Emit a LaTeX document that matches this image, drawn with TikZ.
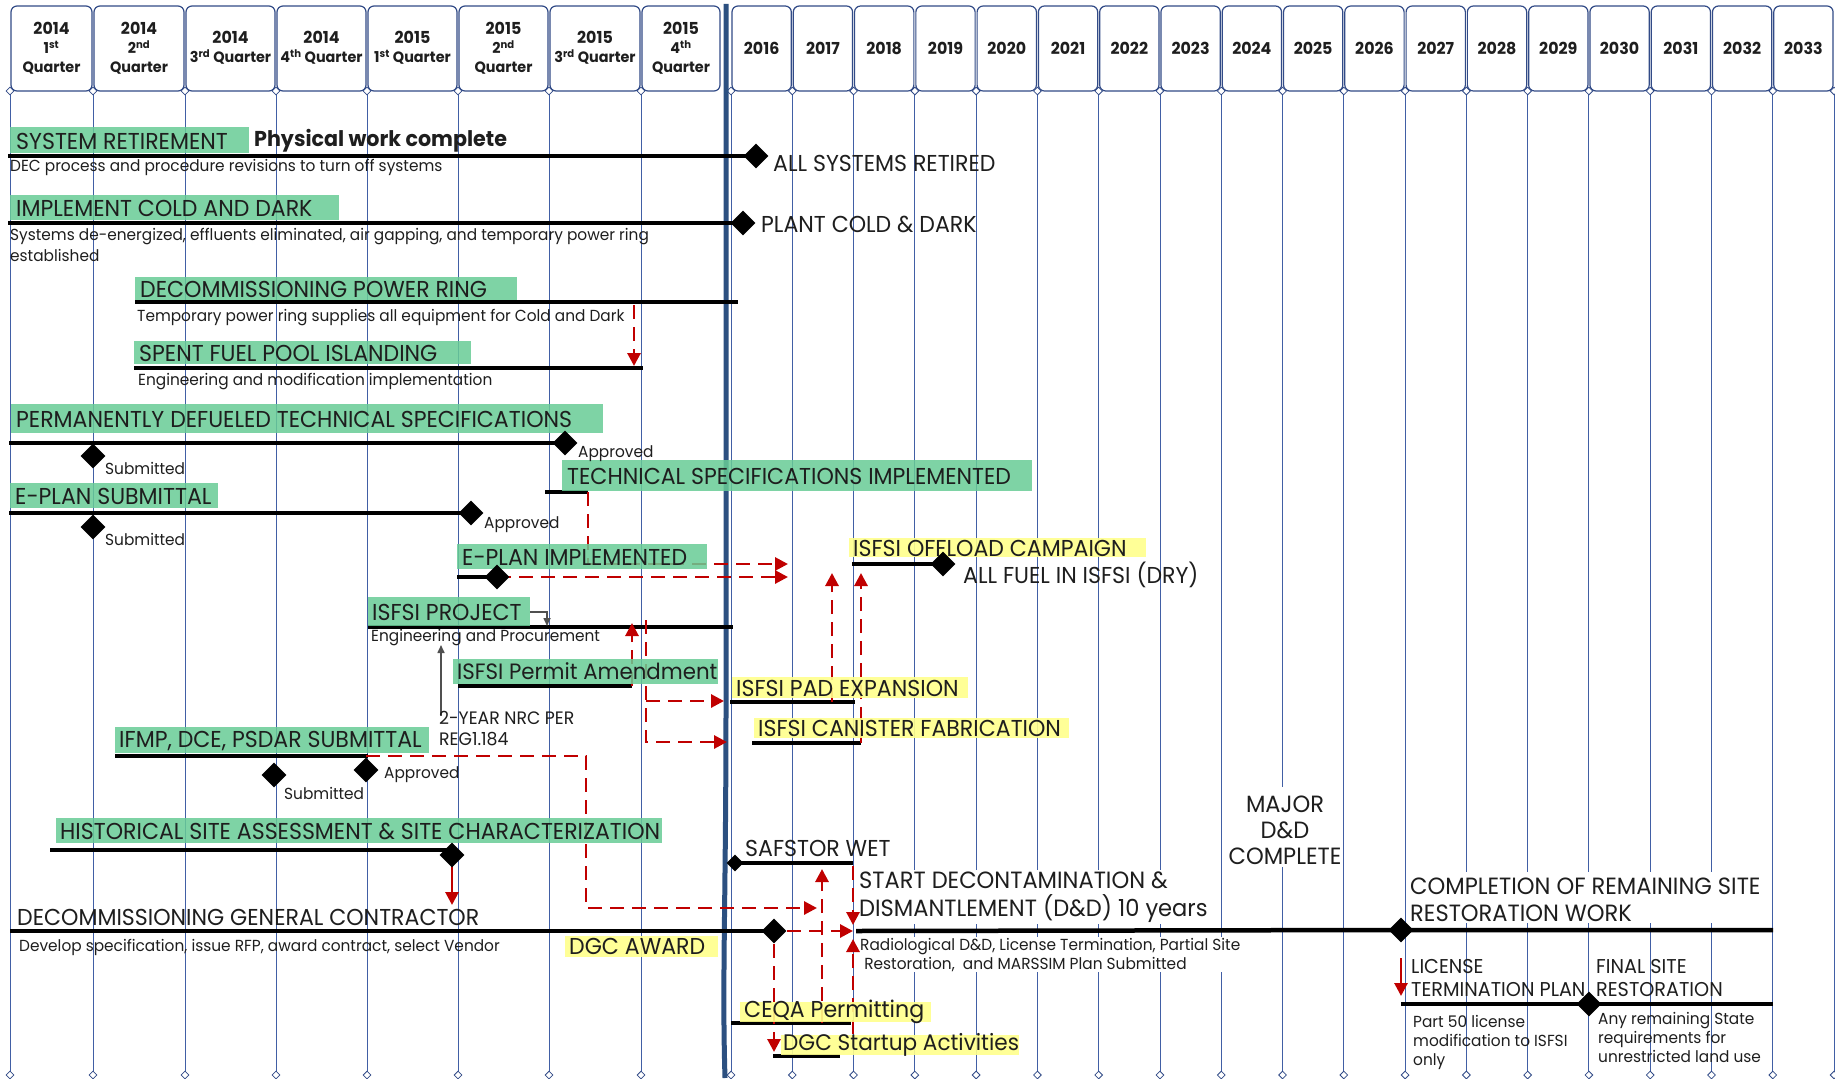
\documentclass[tikz,border=0pt]{standalone}
\usepackage{fontspec}
\setmainfont{Poppins}[FakeStretch=0.96]
\usetikzlibrary{arrows.meta,shapes.geometric}
\definecolor{gbox}{RGB}{104,204,150}
\definecolor{ybox}{RGB}{255,255,140}
\definecolor{gridc}{RGB}{65,95,165}
\definecolor{hdr}{RGB}{50,75,135}
\definecolor{sepc}{RGB}{44,80,128}
\definecolor{dred}{RGB}{192,0,0}
\definecolor{txt}{RGB}{30,30,30}
\definecolor{greyarr}{RGB}{80,80,80}
\newcommand{\fbig}{\fontsize{23}{27}\selectfont}
\newcommand{\fsml}{\fontsize{16}{19}\selectfont}
\newcommand{\fhdr}{\fontsize{15}{19}\selectfont\bfseries}
\newcommand{\fyr}{\fontsize{16.5}{19}\selectfont\bfseries}
\begin{document}
\begin{tikzpicture}[x=1pt,y=-1pt,
  every node/.style={inner sep=0pt, text=txt},
  lbl/.style={anchor=west, font=\fbig},
  sml/.style={anchor=west, font=\fsml},
  hdrtext/.style={align=center, font=\fhdr},
  hdrbox/.style={draw=hdr, line width=1.2pt, rounded corners=6pt, fill=white},
  hjoint/.style={diamond, draw=hdr, fill=white, line width=0.8pt, minimum width=8pt, minimum height=8pt},
  gridline/.style={draw=gridc, line width=0.9pt},
  gfill/.style={fill=gbox, fill opacity=0.85},
  yfill/.style={fill=ybox, fill opacity=0.9},
  bar/.style={line width=4.5pt, black},
  ms/.style={diamond, fill=black, minimum width=25pt, minimum height=25pt},
  mss/.style={diamond, fill=black, minimum width=17pt, minimum height=17pt},
  dep/.style={dred, line width=2.9pt, dash pattern=on 14pt off 8pt, -{Triangle[length=13pt,width=13pt]}},
  redsolid/.style={dred, line width=2.8pt, -{Triangle[length=13pt,width=13pt]}},
  garrow/.style={greyarr, line width=1.6pt, -{Triangle[length=8pt,width=7pt]}}
]
\useasboundingbox (0,0) rectangle (1835,1078);
\fill[white] (0,0) rectangle (1835,1078);

% ---------- header ----------
\foreach \a/\b in {10/93,93/185,185/276,276/367,367/458,458/549,549/641,641/721}
  \draw[hdrbox] (\a+1,6) rectangle (\b-1,91);
\foreach \i in {0,...,17} {
  \pgfmathsetmacro\xa{731+\i*61.28}
  \pgfmathsetmacro\xb{731+(\i+1)*61.28}
  \pgfmathtruncatemacro\yr{2016+\i}
  \draw[hdrbox] (\xa+1,6) rectangle (\xb-1,91);
  \node[hdrtext, font=\fyr] (yr\i) at ({(\xa+\xb)/2},48) {\yr};
}
\node[hdrtext] (q1) at (51.5,48) {{\fyr 2014}\\1\textsuperscript{st}\\Quarter};
\node[hdrtext] (q2) at (139,48) {{\fyr 2014}\\2\textsuperscript{nd}\\Quarter};
\node[hdrtext] (q3) at (230.5,48) {{\fyr 2014}\\3\textsuperscript{rd} Quarter};
\node[hdrtext] (q4) at (321.5,48) {{\fyr 2014}\\4\textsuperscript{th} Quarter};
\node[hdrtext] (q5) at (412.5,48) {{\fyr 2015}\\1\textsuperscript{st} Quarter};
\node[hdrtext] (q6) at (503.5,48) {{\fyr 2015}\\2\textsuperscript{nd}\\Quarter};
\node[hdrtext] (q7) at (595,48) {{\fyr 2015}\\3\textsuperscript{rd} Quarter};
\node[hdrtext] (q8) at (681,48) {{\fyr 2015}\\4\textsuperscript{th}\\Quarter};

% ---------- grid ----------
\foreach \x in {10,93,185,276,367,458,549,641} {
  \draw[gridline] (\x,91) -- (\x,1075);
  \node[hjoint] at (\x,91) {};
  \node[hjoint] at (\x,1075) {};
}
\foreach \i in {0,...,18} {
  \pgfmathsetmacro\xa{731+\i*61.28}
  \draw[gridline] (\xa,91) -- (\xa,1075);
  \node[hjoint] at (\xa,91) {};
  \node[hjoint] at (\xa,1075) {};
}
\draw[sepc, line width=5pt] (726,4) -- (726,700) .. controls (726,900) and (722,980) .. (725,1078);

% white backgrounds behind texts in lower right
\fill[white] (857,870) rectangle (1215,924);
\fill[white] (857,937) rectangle (1250,972);
\fill[white] (1223,787) rectangle (1343,867);
\fill[white] (1407,872) rectangle (1772,923);

% ---------- milestone coordinates ----------
\coordinate (m1) at (756,156);
\coordinate (m2) at (743,223);
\coordinate (m3a) at (93,456);
\coordinate (m3b) at (565,443);
\coordinate (m4a) at (93,527);
\coordinate (m4b) at (471,513);
\coordinate (m5) at (497,577);
\coordinate (m6) at (943,564);
\coordinate (m7a) at (274,775);
\coordinate (m7b) at (366,770);
\coordinate (m8) at (452,855);
\coordinate (m9) at (735,863);
\coordinate (m10) at (774,931);
\coordinate (m11) at (1401,930);
\coordinate (m12) at (1589,1004);

% ---------- bars ----------
\draw[bar] (8,156) -- (m1);
\draw[bar] (8,223) -- (m2);
\draw[bar] (135,302) -- (738,302);
\draw[bar] (134,368) -- (643,368);
\draw[bar] (9,443) -- (m3b);
\draw[bar] (545,492) -- (588,492);
\draw[bar] (9,513) -- (m4b);
\draw[bar] (457,577) -- (m5);
\draw[bar] (852,564) -- (m6);
\draw[bar] (368,627) -- (733,627);
\draw[bar] (458,686) -- (632,686);
\draw[bar] (730,702) -- (855,702);
\draw[bar] (752,743) -- (861,743);
\draw[bar] (115,756) -- (368,756);
\draw[bar] (50,850) -- (452,850);
\draw[line width=3.5pt] (m9) -- (853,863);
\draw[bar] (10,931) -- (m10);
\draw[bar] (856,931) -- (m11) -- (1773,930);
\draw[bar] (731,1023) -- (851,1023);
\draw[bar] (773,1056) -- (840,1056);
\draw[bar] (1401,1004) -- (1773,1004);

% ---------- dependency arrows ----------
\draw[dep] (634,305) -- (634,366);
\draw[dep] (588,492) -- (588,564) -- (788,564);
\draw[dep] (m5) -- (788,577);
\draw[dep] (632,686) -- (632,623);
\draw[dep] (646,620) -- (646,742) -- (727,742);
\draw[dep] (646,701) -- (724,701);
\draw[dep] (832,702) -- (832,573);
\draw[dep] (861,743) -- (861,573);
\draw[dep] (m7b) ++(0,-14) -- (586,756) -- (586,908) -- (817,908);
\draw[redsolid] (452,866) -- (452,905);
\draw[dep] (853,866) -- (853,925);
\draw[dep] (822,1023) -- (822,869);
\draw[dep] (787,931) -- (853,931);
\draw[dep] (774,944) -- (774,1052);
\draw[dep] (853,1034) -- (853,939);
\draw[redsolid] (1401,958) -- (1401,996);
\draw[garrow] (530,612) -- (547,612) -- (547,626);
\draw[garrow] (441,716) -- (441,645);

% ---------- boxes ----------
\fill[gfill] (10,127) rectangle (249,153);
\fill[gfill] (10,195) rectangle (339,220);
\fill[gfill] (135,277) rectangle (517,300);
\fill[gfill] (134,341) rectangle (471,364);
\fill[gfill] (11,404) rectangle (603,433);
\fill[gfill] (562,460) rectangle (1032,491);
\fill[gfill] (10,483) rectangle (218,508);
\fill[gfill] (457,544) rectangle (707,569);
\fill[gfill] (368,597) rectangle (530,626);
\fill[gfill] (453,659) rectangle (718,684);
\fill[gfill] (115,727) rectangle (429,753);
\fill[gfill] (56,818) rectangle (662,843);
\fill[yfill] (849,538) rectangle (1146,557);
\fill[yfill] (732,677) rectangle (968,698);
\fill[yfill] (754,718) rectangle (1069,738);
\fill[yfill] (565,936) rectangle (718,957);
\fill[yfill] (740,1002) rectangle (931,1022);
\fill[yfill] (781,1035) rectangle (1019,1055);

% ---------- milestones ----------
\node[ms] (d1) at (m1) {};
\node[ms] (d2) at (m2) {};
\node[ms] (d3a) at (m3a) {};
\node[ms] (d3b) at (m3b) {};
\node[ms] (d4a) at (m4a) {};
\node[ms] (d4b) at (m4b) {};
\node[ms] (d5) at (m5) {};
\node[ms] (d6) at (m6) {};
\node[ms] (d7a) at (m7a) {};
\node[ms] (d7b) at (m7b) {};
\node[ms] (d8) at (m8) {};
\node[mss] (d9) at (m9) {};
\node[ms] (d10) at (m10) {};
\node[ms] (d11) at (m11) {};
\node[ms] (d12) at (m12) {};

% ---------- texts ----------
\node[lbl] (t1) at (16,141) {SYSTEM RETIREMENT};
\node[anchor=west, font=\fontsize{21.5}{25}\selectfont\bfseries] (t1b) at (254,141) {Physical work complete};
\node[lbl] (t1c) at (773,163) {ALL SYSTEMS RETIRED};
\node[sml] (t1d) at (10,167) {DEC process and procedure revisions to turn off systems};

\node[lbl] (t2) at (16,208) {IMPLEMENT COLD AND DARK};
\node[lbl] (t2c) at (761,224) {PLANT COLD \& DARK};
\node[sml] (t2d) at (10,237) {Systems de-energized, effluents eliminated, air gapping, and temporary power ring};
\node[sml] (t2e) at (10,255) {established};

\node[lbl] (t3) at (140,289) {DECOMMISSIONING POWER RING};
\node[sml] (t3d) at (137,318) {Temporary power ring supplies all equipment for Cold and Dark};

\node[lbl] (t4) at (139,353) {SPENT FUEL POOL ISLANDING};
\node[sml] (t4d) at (138,382) {Engineering and modification implementation};

\node[lbl] (t5) at (16,419) {PERMANENTLY DEFUELED TECHNICAL SPECIFICATIONS};
\node[sml] (t5a) at (105,468) {Submitted};
\node[sml] (t5b) at (578,454) {Approved};

\node[lbl] (t6) at (567,476) {TECHNICAL SPECIFICATIONS IMPLEMENTED};

\node[lbl] (t7) at (15,496) {E-PLAN SUBMITTAL};
\node[sml] (t7a) at (105,539) {Submitted};
\node[sml] (t7b) at (484,525) {Approved};

\node[lbl] (t8) at (462,557) {E-PLAN IMPLEMENTED};
\node[lbl] (t9) at (853,548) {ISFSI OFFLOAD CAMPAIGN};
\node[lbl] (t9b) at (963,575) {ALL FUEL IN ISFSI (DRY)};

\node[lbl] (t10) at (372,612) {ISFSI PROJECT};
\node[sml] (t10d) at (371,638) {Engineering and Procurement};
\node[lbl, font=\fontsize{22.2}{26}\selectfont] (t11) at (457,671) {ISFSI Permit Amendment};
\node[anchor=north west, align=left, font=\fontsize{18}{21}\selectfont] (t11n) at (439,711) {2-YEAR NRC PER\\REG1.184};

\node[lbl] (t12) at (736,688) {ISFSI PAD EXPANSION};
\node[lbl] (t13) at (758,728) {ISFSI CANISTER FABRICATION};

\node[lbl] (t14) at (119,741) {IFMP, DCE, PSDAR SUBMITTAL};
\node[sml] (t14a) at (284,793) {Submitted};
\node[sml] (t14b) at (384,775) {Approved};

\node[lbl] (t15) at (60,831) {HISTORICAL SITE ASSESSMENT \& SITE CHARACTERIZATION};

\node[lbl] (t16) at (745,848) {SAFSTOR WET};
\node[lbl] (t17) at (17,917) {DECOMMISSIONING GENERAL CONTRACTOR};
\node[sml] (t17d) at (19,947) {Develop specification, issue RFP, award contract, select Vendor};
\node[lbl] (t18) at (569,946) {DGC AWARD};
\node[lbl] (t19) at (744,1012) {CEQA Permitting};
\node[lbl, font=\fontsize{22.5}{26}\selectfont] (t20) at (783,1045) {DGC Startup Activities};

\node[anchor=north west, align=left, font=\fontsize{23.5}{27.5}\selectfont] (t21) at (859,872) {START DECONTAMINATION \&\\DISMANTLEMENT (D\&D) 10 years};
\node[sml, align=left, anchor=north west] (t22) at (860,938) {Radiological D\&D, License Termination, Partial Site\\\ Restoration,\ \ and MARSSIM Plan Submitted};
\node[align=center, font=\fontsize{23.5}{26}\selectfont] (t23) at (1285,830) {MAJOR\\D\&D\\COMPLETE};
\node[anchor=north west, align=left, font=\fontsize{23.5}{27}\selectfont] (t24) at (1410,878) {COMPLETION OF REMAINING SITE\\RESTORATION WORK};
\node[anchor=north west, align=left, font=\fontsize{20}{23}\selectfont] (t25) at (1411,959) {LICENSE\\TERMINATION PLAN};
\node[anchor=north west, align=left, font=\fontsize{20}{23}\selectfont] (t26) at (1596,959) {FINAL SITE\\RESTORATION};
\node[sml, align=left, anchor=north west] (t27) at (1413,1015) {Part 50 license\\modification to ISFSI\\only};
\node[sml, align=left, anchor=north west] (t28) at (1598,1012) {Any remaining State\\requirements for\\unrestricted land use};
\end{tikzpicture}
\end{document}
